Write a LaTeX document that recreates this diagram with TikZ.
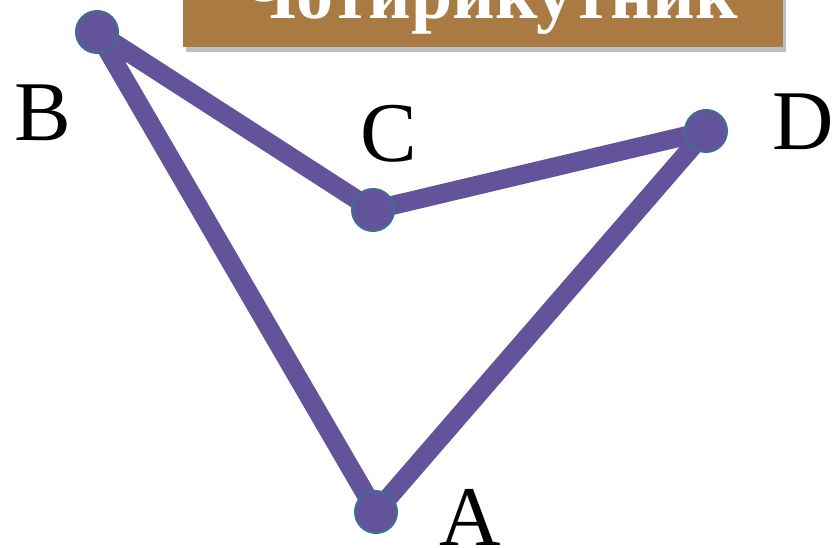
\documentclass[tikz,border=0pt]{standalone}
\usepackage{fontspec}
\setmainfont{Liberation Serif}
\usetikzlibrary{shadows}
\definecolor{edgepurple}{RGB}{99,83,155}
\definecolor{dotrim}{RGB}{60,110,150}
\definecolor{boxbrown}{RGB}{169,123,67}
\tikzset{
  edge/.style={draw=edgepurple,line width=19pt,line join=round},
  dot/.style={circle,fill=edgepurple,draw=dotrim,line width=2pt,minimum size=42pt,inner sep=0pt},
  lbl/.style={font=\fontsize{85}{85}\selectfont,text=black,inner sep=0pt,anchor=base},
  titlebox/.style={fill=boxbrown,draw=none,drop shadow={shadow xshift=3pt,shadow yshift=-5pt,opacity=0.5}},
  titletext/.style={font=\fontsize{74}{74}\selectfont\bfseries,text=white,inner sep=0pt,anchor=base}
}
\begin{document}
\begin{tikzpicture}[x=1pt,y=-1pt]
\useasboundingbox (0,0) rectangle (835,548);
\fill[boxbrown,titlebox] (183,-20) rectangle (783,47);
\node[titletext] (title) at (490,19) {Чотирикутник};
\coordinate (B) at (97,32);
\coordinate (C) at (373,210);
\coordinate (D) at (706,131);
\coordinate (A) at (376,512);
\draw[edge] (B) -- (C) -- (D) -- (A) -- cycle;
\node[dot] (nB) at (B) {};
\node[dot] (nC) at (C) {};
\node[dot] (nD) at (D) {};
\node[dot] (nA) at (A) {};
\node[lbl] (lB) at (43,141) {B};
\node[lbl] (lC) at (389,162) {C};
\node[lbl] (lD) at (803,150) {D};
\node[lbl] (lA) at (470,545) {A};
\end{tikzpicture}
\end{document}
